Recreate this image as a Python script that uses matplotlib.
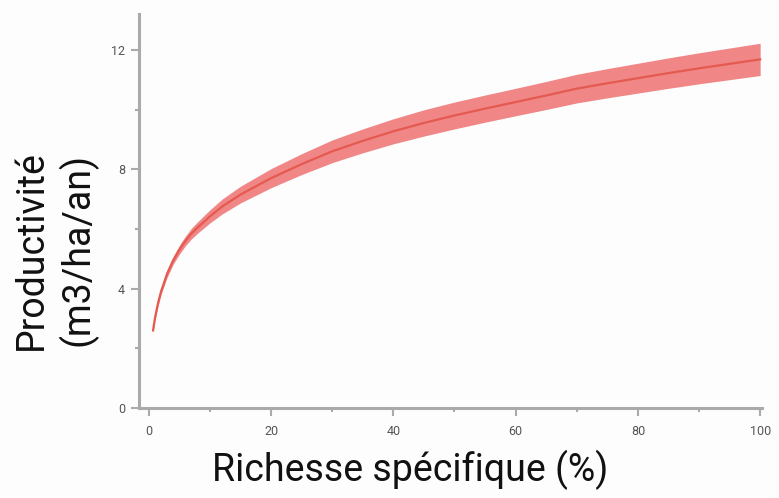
import matplotlib.pyplot as plt
from matplotlib.ticker import MultipleLocator

# values
richesse = [0.7, 1, 1.5, 2, 3, 4, 5, 6, 7, 8, 10, 12, 15, 20, 25, 30, 35, 40, 45, 50,
            55, 60, 65, 70, 75, 80, 85, 90, 95, 100]
productivite = [2.6, 3.0, 3.5, 3.9, 4.5, 4.95, 5.3, 5.6, 5.85, 6.05, 6.42, 6.75, 7.15, 7.7,
                8.17, 8.6, 8.95, 9.27, 9.55, 9.8, 10.03, 10.25, 10.47, 10.7, 10.88, 11.05,
                11.22, 11.38, 11.53, 11.68]
demi_largeur = [0.07, 0.08, 0.09, 0.1, 0.12, 0.13, 0.15, 0.16, 0.18, 0.19, 0.22, 0.25, 0.28,
                0.32, 0.35, 0.38, 0.4, 0.42, 0.44, 0.45, 0.455, 0.46, 0.47, 0.48, 0.49, 0.5,
                0.51, 0.52, 0.53, 0.54]

bas = [p - d for p, d in zip(productivite, demi_largeur)]
haut = [p + d for p, d in zip(productivite, demi_largeur)]

plt.rcParams['font.family'] = ['Roboto', 'DejaVu Sans']

fig = plt.figure(figsize=(7.79, 4.98), dpi=100)
fig.patch.set_facecolor('#fdfdfd')
ax = fig.add_axes([139/779, 1-408/498, (762-139)/779, (408-14)/498])
ax.set_facecolor('#fdfdfd')

ax.fill_between(richesse, bas, haut, color='#f08080', lw=0, alpha=0.95)
ax.plot(richesse, productivite, color='#e45a50', lw=1.6)

ax.set_xlim(-1.6, 100.3)
ax.set_ylim(0, 13.2)
ax.xaxis.set_major_locator(MultipleLocator(20))
ax.xaxis.set_minor_locator(MultipleLocator(10))
ax.yaxis.set_major_locator(MultipleLocator(4))
ax.yaxis.set_minor_locator(MultipleLocator(2))

for s in ['top', 'right']:
    ax.spines[s].set_visible(False)
for s in ['left', 'bottom']:
    ax.spines[s].set_color('#aaaaaa')
    ax.spines[s].set_linewidth(2.2)

ax.tick_params(which='major', length=6, width=1.5, color='#aaaaaa', labelsize=9,
               labelcolor='#555555', pad=4)
ax.tick_params(axis='x', which='major', pad=6)
ax.tick_params(which='minor', length=3, width=1.5, color='#aaaaaa')

fig.text(55/779, 1-250/498, 'Productivité\n(m3/ha/an)', rotation=90, ha='center', va='center',
         fontsize=27, color='#111111', linespacing=1.25)
fig.text(410/779, 1-470/498, 'Richesse spécifique (%)', ha='center', va='center',
         fontsize=27, color='#111111')

fig.savefig('out.png', dpi=100, facecolor=fig.get_facecolor())
